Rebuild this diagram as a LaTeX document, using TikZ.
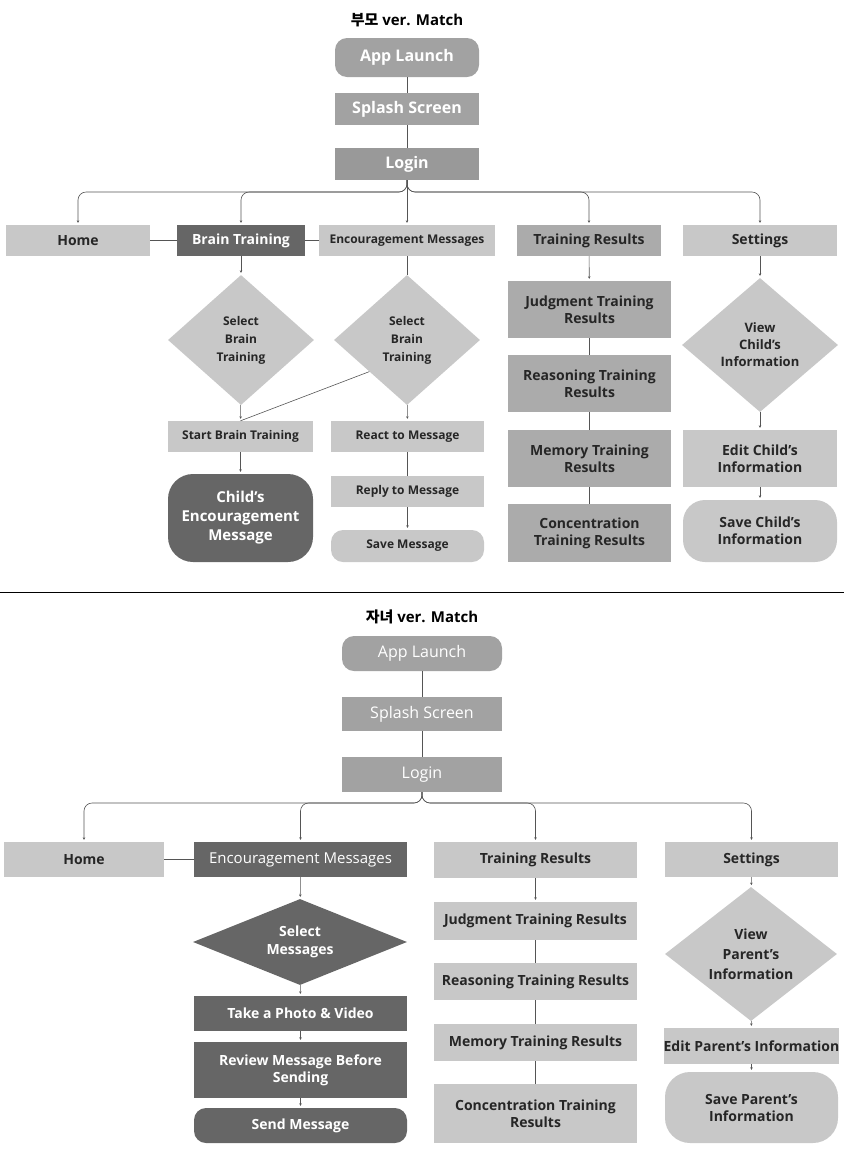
\documentclass[tikz,border=0pt]{standalone}
\usepackage{fontspec}
\setmainfont{Open Sans}
\newfontfamily\cjk{Noto Sans CJK KR}
\usetikzlibrary{shapes.geometric,arrows.meta}
\definecolor{lg}{HTML}{C8C8C8}
\definecolor{mg}{HTML}{A2A2A2}
\definecolor{tg}{HTML}{ABABAB}
\definecolor{dg}{HTML}{666666}
\definecolor{ln}{HTML}{555555}
\newcommand\bx[7]{\node[#6, minimum width={(#4-#2)*1pt}, minimum height={(#5-#3)*1pt}] (#1) at ({(#2+#4)/2},{-(#3+#5)/2}) {#7};}
\newcommand\dm[7]{\pgfmathsetmacro\myasp{#4/#5}\node[dia,#6, minimum width={2*#4*1pt}, minimum height={2*#5*1pt}, shape aspect=\myasp] (#1) at (#2,-#3) {#7};}
\begin{document}
\begin{tikzpicture}[x=1pt,y=1pt,
 b/.style={rectangle,inner sep=0pt,align=center,font=\fontsize{14}{17}\selectfont\bfseries},
 light/.style={b,fill=lg,text=black!85},
 mid/.style={b,fill=mg,text=white},
 tr/.style={b,fill=tg,text=black!85},
 dark/.style={b,fill=dg,text=white},
 dia/.style={diamond,inner sep=0pt,align=center,fill=lg,text=black!85,font=\fontsize{12}{18}\selectfont\bfseries},
 sm/.style={font=\fontsize{12}{15}\selectfont\bfseries},
 rc/.style={rounded corners=#1},
 ar/.style={draw=ln,line width=0.6pt,-{Stealth[length=2.5pt,width=2.5pt]},shorten >=2pt},
 li/.style={draw=ln,line width=0.6pt}]
\useasboundingbox (0,0) rectangle (844,-1152);
% ===== top =====
\node[font=\fontsize{15}{18}\selectfont\bfseries] (t1) at (407,-20) {{\cjk 부모} ver. Match};
\bx{al}{335}{38}{479}{77}{mid,rc=12pt,font=\fontsize{16}{19}\selectfont\bfseries}{App Launch}
\bx{ss}{335}{93}{479}{125}{mid,font=\fontsize{16}{19}\selectfont\bfseries}{Splash Screen}
\bx{lo}{335}{148}{479}{180}{mid,fill=black!40,font=\fontsize{16}{19}\selectfont\bfseries}{Login}
\bx{ho}{6}{225}{150}{256}{light}{Home}
\bx{bt}{177}{225}{305}{256}{dark}{Brain Training}
\bx{em}{319}{225}{495}{256}{light,sm}{Encouragement Messages}
\bx{tr}{517}{225}{661}{256}{tr}{Training Results}
\bx{se}{683}{225}{837}{256}{light}{Settings}
\dm{d1}{241}{340}{73}{65}{}{Select\\Brain\\Training}
\dm{d2}{407}{340}{73}{65}{}{Select\\Brain\\Training}
\bx{sb}{168}{421}{313}{452}{light,sm}{Start Brain Training}
\bx{ce}{168}{474}{313}{562}{dark,rc=25pt,font=\fontsize{15}{19}\selectfont\bfseries}{Child's\\Encouragement\\Message}
\bx{rm}{331}{421}{484}{452}{light,sm}{React to Message}
\bx{rp}{331}{476}{484}{507}{light,sm}{Reply to Message}
\bx{sv}{331}{530}{484}{562}{light,sm,rc=12pt}{Save Message}
\bx{j1}{508}{281}{671}{338}{tr}{Judgment Training\\Results}
\bx{r1}{508}{355}{671}{412}{tr}{Reasoning Training\\Results}
\bx{m1}{508}{430}{671}{487}{tr}{Memory Training\\Results}
\bx{c1}{508}{504}{671}{562}{tr}{Concentration\\Training Results}
\dm{d3}{760}{345}{78}{67}{font=\fontsize{13}{17}\selectfont\bfseries}{View\\Child's\\Information}
\bx{ec}{683}{430}{837}{487}{light}{Edit Child's\\Information}
\bx{sc}{683}{500}{837}{562}{light,rc=22pt}{Save Child's\\Information}
\draw[li] (al) -- (ss); \draw[li] (ss) -- (lo);
\coordinate (bus1) at (407,-192);
\foreach \t in {ho,bt,tr,se} \draw[ar,rounded corners=8pt] (lo.south) -- (bus1) -| (\t.north);
\draw[ar] (lo.south) -- (em.north);
\draw[li] (ho) -- (bt); \draw[li] (bt) -- (em);
\draw[ar] (bt) -- (d1); \draw[li] (em) -- (d2);
\draw[ar] (d1) -- (sb); \draw[ar] (d2) -- (rm);
\draw[li] (d2.220) -- (sb.north);
\draw[ar] (sb) -- (ce); \draw[li] (rm) -- (rp); \draw[ar] (rp) -- (sv);
\draw[ar] (tr) -- (j1); \draw[li] (j1) -- (r1); \draw[li] (r1) -- (m1); \draw[li] (m1) -- (c1);
\draw[ar] (se) -- (d3); \draw[ar] (d3) -- (ec); \draw[ar] (ec) -- (sc);
\coordinate (sepL) at (0,-592); \coordinate (sepR) at (844,-592);
\draw[line width=0.8pt] (sepL) -- (sepR);
% ===== bottom =====
\node[font=\fontsize{15}{18}\selectfont\bfseries] (t2) at (422,-617) {{\cjk 자녀} ver. Match};
\bx{al2}{342}{636}{502}{671}{mid,rc=12pt,font=\fontsize{16}{19}\selectfont}{App Launch}
\bx{ss2}{342}{697}{502}{731}{mid,font=\fontsize{16}{19}\selectfont}{Splash Screen}
\bx{lo2}{342}{757}{502}{792}{mid,font=\fontsize{16}{19}\selectfont}{Login}
\bx{ho2}{4}{842}{164}{877}{light}{Home}
\bx{em2}{194}{842}{407}{877}{dark,font=\fontsize{15}{18}\selectfont}{Encouragement Messages}
\bx{tr2}{434}{842}{637}{878}{light}{Training Results}
\bx{se2}{665}{842}{838}{877}{light}{Settings}
\dm{d4}{300}{942}{107}{43}{fill=dg,text=white,font=\fontsize{14}{18}\selectfont\bfseries}{Select\\Messages}
\bx{tp}{194}{996}{407}{1031}{dark}{Take a Photo \& Video}
\bx{rv}{194}{1042}{407}{1098}{dark}{Review Message Before\\Sending}
\bx{sm2}{194}{1108}{407}{1143}{dark,rc=12pt}{Send Message}
\bx{j2}{434}{902}{637}{940}{light}{Judgment Training Results}
\bx{r2}{434}{963}{637}{1000}{light}{Reasoning Training Results}
\bx{m2}{434}{1024}{637}{1061}{light}{Memory Training Results}
\bx{c2}{434}{1084}{637}{1143}{light}{Concentration Training\\Results}
\dm{d5}{751}{954}{86}{67}{font=\fontsize{14}{20}\selectfont\bfseries}{View\\Parent's\\Information}
\bx{ep}{665}{1028}{838}{1064}{light}{Edit Parent's Information}
\bx{sp}{665}{1072}{838}{1143}{light,rc=25pt}{Save Parent's\\Information}
\draw[li] (al2) -- (ss2); \draw[li] (ss2) -- (lo2);
\coordinate (bus2) at (422,-803);
\foreach \t in {ho2,em2,tr2,se2} \draw[ar,rounded corners=8pt] (lo2.south) -- (bus2) -| (\t.north);
\draw[li] (ho2) -- (em2);
\draw[ar] (em2) -- (d4); \draw[ar] (d4) -- (tp); \draw[ar] (tp) -- (rv); \draw[ar] (rv) -- (sm2);
\draw[ar] (tr2) -- (j2); \draw[li] (j2) -- (r2); \draw[li] (r2) -- (m2); \draw[li] (m2) -- (c2);
\draw[ar] (se2) -- (d5); \draw[ar] (d5) -- (ep); \draw[ar] (ep) -- (sp);
\end{tikzpicture}
\end{document}
